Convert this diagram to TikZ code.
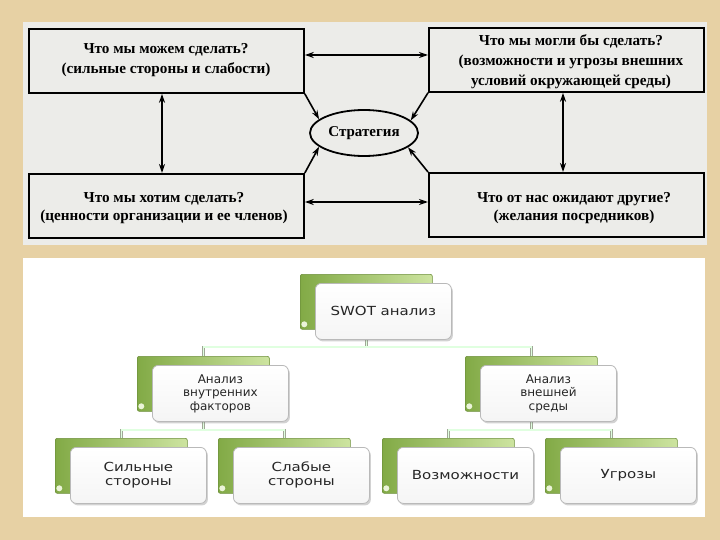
\documentclass[tikz,border=0pt]{standalone}
\usepackage{fontspec}
\setmainfont{Liberation Serif}
\newfontfamily\smartfont{DejaVu Sans}
\newfontfamily\smartwide[FakeStretch=1.2]{DejaVu Sans}
\usetikzlibrary{arrows.meta,shapes.geometric,shadows}
\pgfdeclarelayer{bg}\pgfdeclarelayer{conn}
\pgfsetlayers{bg,conn,main}
\definecolor{beige}{RGB}{231,209,164}
\definecolor{scan}{RGB}{236,236,233}
\definecolor{gdark}{RGB}{130,170,70}
\definecolor{glight}{RGB}{205,228,160}
\definecolor{fborder}{RGB}{185,185,185}
\definecolor{connc}{RGB}{160,168,150}
\begin{document}
\begin{tikzpicture}[x=1pt,y=-1pt,
 sbox/.style={draw=black,line width=1.8pt,minimum width=275pt,minimum height=64pt,anchor=north west,inner sep=0},
 stxt/.style={font=\bfseries\fontsize{15.2}{20}\selectfont,align=center,inner sep=0},
 stxtb/.style={font=\bfseries\fontsize{15.2}{18.5}\selectfont,align=center,inner sep=0},
 arr/.style={line width=1.6pt,{Stealth[length=9pt,width=6pt]}-{Stealth[length=9pt,width=6pt]}},
 oarr/.style={line width=1.6pt,-{Stealth[length=9pt,width=6pt]}},
 back/.style={rounded corners=2pt,minimum width=132pt,minimum height=55pt,anchor=north west,draw=gdark!85!black,line width=0.6pt,left color=gdark,right color=glight,inner sep=0,
   path picture={\fill[white!60!glight] ([xshift=4pt,yshift=5pt]path picture bounding box.south west) circle (3pt);}},
 front/.style={rounded corners=6pt,minimum width=136pt,minimum height=56pt,anchor=north west,draw=fborder,line width=0.8pt,top color=white,bottom color=gray!8,
   drop shadow={shadow xshift=1.5pt,shadow yshift=-2pt,opacity=0.35},align=center,
   font=\smartwide\fontsize{12.5}{14}\selectfont,text=black!85,inner sep=0},
 mid/.style={font=\smartfont\fontsize{12}{13.5}\selectfont},
 conn/.style={draw=connc,double=white!88!green,double distance=1.2pt,line width=0.8pt}
]
\useasboundingbox (0,0) rectangle (720,540);
\begin{pgfonlayer}{bg}
 \fill[beige] (0,0) rectangle (720,540);
 \fill[scan] (23,22) rectangle (707,245);
 \fill[white] (23,258) rectangle (705,517);
\end{pgfonlayer}

% ---- top scanned diagram ----
\node[sbox] (tl) at (28,28) {};
\node[sbox] (tr) at (428,27) {};
\node[sbox] (bl) at (28,173) {};
\node[sbox] (br) at (428,172) {};
\node[stxt] (tlt) at (166,60) {Что мы можем сделать?\\(сильные стороны и слабости)};
\node[stxt] (trt) at (571,62) {Что мы могли бы сделать?\\(возможности и угрозы внешних\\условий окружающей среды)};
\node[stxtb] (blt) at (164,208) {Что мы хотим сделать?\\(ценности организации и ее членов)};
\node[stxtb] (brt) at (574,208) {Что от нас ожидают другие?\\(желания посредников)};
\node[ellipse,draw,line width=1.8pt,minimum width=108pt,minimum height=46pt,inner sep=0,
  font=\bfseries\fontsize{15}{16}\selectfont] (strat) at (364,133) {Стратегия};

\coordinate (h1) at (0,55);
\coordinate (h2) at (0,202);
\coordinate (v1) at (162,0);
\coordinate (v2) at (563,0);
\draw[arr] (tl.east |- h1) -- (tr.west |- h1);
\draw[arr] (bl.east |- h2) -- (br.west |- h2);
\draw[arr] (tl.south -| v1) -- (bl.north -| v1);
\draw[arr] (tr.south -| v2) -- (br.north -| v2);
\draw[oarr] (tl.south east) -- (strat.163);
\draw[oarr] (bl.north east) -- (strat.197);
\draw[oarr] (tr.south west) -- (strat.15);
\draw[oarr] (br.north west) -- (strat.-18);

% ---- SWOT hierarchy ----
\node[back] (b0) at (300,274) {};
\node[front] (f0) at (315,283) {SWOT анализ};
\node[back] (b1) at (137,356) {};
\node[front,mid] (f1) at (152,365) {Анализ\\внутренних\\факторов};
\node[back] (b2) at (465,356) {};
\node[front,mid] (f2) at (480,365) {Анализ\\внешней\\среды};
\node[back] (b3) at (55,438) {};
\node[front] (f3) at (70,447) {Сильные\\стороны};
\node[back] (b4) at (218,438) {};
\node[front] (f4) at (233,447) {Слабые\\стороны};
\node[back] (b5) at (382,438) {};
\node[front] (f5) at (397,447) {Возможности};
\node[back] (b6) at (545,438) {};
\node[front] (f6) at (560,447) {Угрозы};

\coordinate (j0) at (0,347);
\coordinate (j1) at (0,430);
\begin{pgfonlayer}{conn}
 \draw[conn] (b0.south) -- (b0.south |- j0);
 \draw[conn] (b1.north) -- (b1.north |- j0) -- (b2.north |- j0) -- (b2.north);
 \draw[conn] (b1.south) -- (b1.south |- j1);
 \draw[conn] (b3.north) -- (b3.north |- j1) -- (b4.north |- j1) -- (b4.north);
 \draw[conn] (b2.south) -- (b2.south |- j1);
 \draw[conn] (b5.north) -- (b5.north |- j1) -- (b6.north |- j1) -- (b6.north);
\end{pgfonlayer}
\end{tikzpicture}
\end{document}
